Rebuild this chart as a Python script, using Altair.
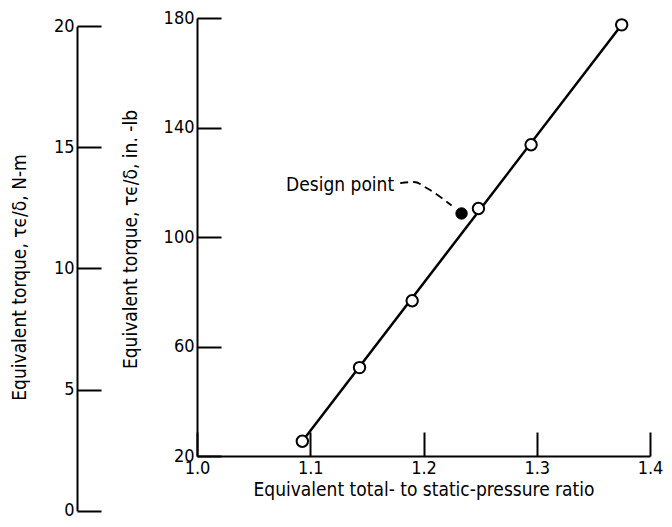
import altair as alt
import pandas as pd

# ---- data ----
ratio_pts = [1.093, 1.1435, 1.19, 1.2485, 1.295, 1.375]
torque_pts = [25.4, 52.3, 76.7, 110.4, 133.7, 177.5]

design_ratio = [1.2336]
design_torque = [108.6]

fit_ratio = [1.093, 1.375]
fit_torque = [25.4, 177.5]

leader_ratio = [1.1794, 1.1916, 1.2039, 1.2248]
leader_torque = [119.7, 120.1, 117.6, 111.5]

label_ratio = [1.1741]
label_torque = [119.0]
label_text = ["Design point"]

x_ticks = [1.0, 1.1, 1.2, 1.3, 1.4]
y_ticks = [20, 60, 100, 140, 180]
nm_ticks = [0, 5, 10, 15, 20]

# ---- layout ----
W, H = 453, 438
FONT = "DejaVu Sans Condensed, Liberation Sans Narrow, DejaVu Sans, sans-serif"
LBL = 18
TTL = 19
PX_PER_INLB = H / 160.0
NM_TO_INLB = 8.8507

x_axis = alt.Axis(
    orient="top", offset=-H, values=x_ticks, format=".1f",
    tickSize=24, tickWidth=2, tickColor="black",
    domainWidth=2, domainColor="black",
    labelBaseline="top", labelAlign="center", labelPadding=-27,
    labelFont=FONT, labelFontSize=LBL, labelColor="black",
    labelFlush=False, labelOverlap=False, grid=False,
    title="Equivalent total- to static-pressure ratio",
    titleFont=FONT, titleFontSize=TTL, titleFontWeight="normal", titleColor="black",
    titleY=24, titleBaseline="top", titleAlign="center", titleX=W / 2,
)
y_axis = alt.Axis(
    orient="right", offset=-W, values=y_ticks, format="d",
    tickSize=24, tickWidth=2, tickColor="black",
    domainWidth=2, domainColor="black",
    labelAlign="right", labelBaseline="middle", labelPadding=-27,
    labelFont=FONT, labelFontSize=LBL, labelColor="black",
    labelFlush=False, labelOverlap=False, grid=False,
    title="Equivalent torque,  τϵ/δ, in. -lb",
    titleFont=FONT, titleFontSize=TTL, titleFontWeight="normal", titleColor="black",
    titleAngle=270, titleX=-67, titleY=H / 2 + 2, titleAlign="center", titleBaseline="middle",
)
nm_axis = alt.Axis(
    orient="right", offset=-W - 120, values=nm_ticks, format="d",
    tickSize=24, tickWidth=2, tickColor="black",
    domainWidth=2, domainColor="black",
    labelAlign="right", labelBaseline="middle", labelPadding=-27,
    labelFont=FONT, labelFontSize=LBL, labelColor="black",
    labelFlush=False, labelOverlap=False, grid=False,
    title="Equivalent torque,  τϵ/δ, N-m",
    titleFont=FONT, titleFontSize=TTL, titleFontWeight="normal", titleColor="black",
    titleAngle=270, titleX=-58, titleY=259, titleAlign="center", titleBaseline="middle",
)

x_scale = alt.Scale(domain=[1.0, 1.4], nice=False, zero=False)
y_scale = alt.Scale(domain=[20, 180], nice=False, zero=False)
nm_top = H - (20 * NM_TO_INLB - 20) * PX_PER_INLB
nm_bottom = H + 20 * PX_PER_INLB
nm_scale = alt.Scale(domain=[0, 20], nice=False, zero=False, range=[nm_bottom, nm_top])


def X():
    return alt.X("x:Q", scale=x_scale, axis=x_axis)


def Y():
    return alt.Y("y:Q", scale=y_scale, axis=y_axis)


fit_df = pd.DataFrame({"x": fit_ratio, "y": fit_torque})
pts_df = pd.DataFrame({"x": ratio_pts, "y": torque_pts})
des_df = pd.DataFrame({"x": design_ratio, "y": design_torque})
lead_df = pd.DataFrame({"x": leader_ratio, "y": leader_torque})
lab_df = pd.DataFrame({"x": label_ratio, "y": label_torque, "t": label_text})
nm_df = pd.DataFrame({"nm": nm_ticks})

line = alt.Chart(fit_df).mark_line(color="black", strokeWidth=2.5).encode(x=X(), y=Y())
points = alt.Chart(pts_df).mark_point(
    shape="circle", size=130, filled=True, fill="white", stroke="black", strokeWidth=2, opacity=1
).encode(x=X(), y=Y())
design = alt.Chart(des_df).mark_point(
    shape="circle", size=130, filled=True, fill="black", stroke="black", strokeWidth=1, opacity=1
).encode(x=X(), y=Y())
leader = alt.Chart(lead_df).mark_line(
    color="black", strokeWidth=1.8, strokeDash=[8, 5], interpolate="monotone"
).encode(x=X(), y=Y())
label = alt.Chart(lab_df).mark_text(
    font=FONT, fontSize=TTL, color="black", align="right", baseline="middle"
).encode(x=X(), y=Y(), text="t:N")

main = alt.layer(line, leader, points, design, label)

nm_layer = alt.Chart(nm_df).mark_point(opacity=0).encode(
    y=alt.Y("nm:Q", scale=nm_scale, axis=nm_axis)
)

chart = (
    alt.layer(main, nm_layer)
    .resolve_scale(y="independent")
    .resolve_axis(y="independent")
    .properties(
        width=W, height=H,
        autosize=alt.AutoSizeParams(type="none"),
        padding={"left": 189, "top": 10, "right": 14, "bottom": 63},
        background="white",
    )
    .configure_view(stroke=None)
)

chart.save("out.html", embed_options={"renderer": "svg", "actions": False})
